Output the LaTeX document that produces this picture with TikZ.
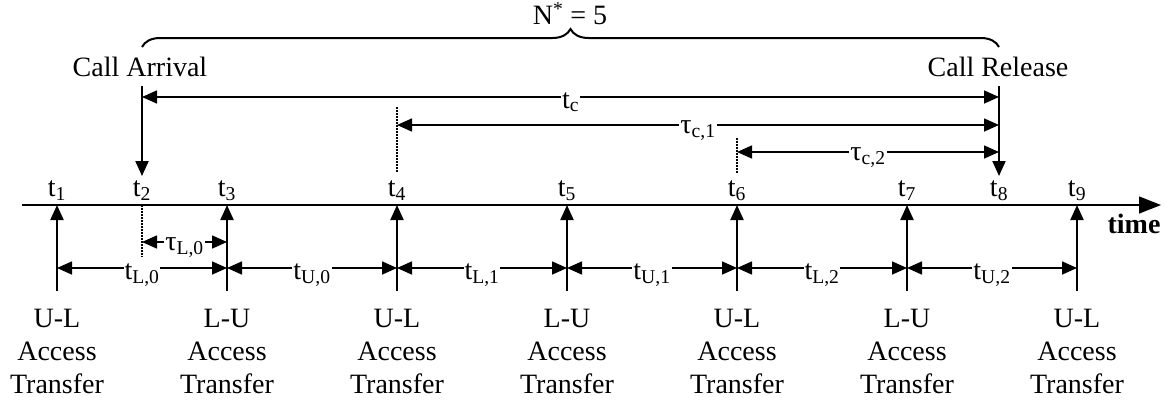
\documentclass[tikz,border=0pt]{standalone}
\usepackage{fontspec}
\setmainfont{Liberation Serif}
\usetikzlibrary{arrows.meta}
\usetikzlibrary{calc}
\usetikzlibrary{decorations.pathreplacing}

\tikzset{
  lbl/.style={fill=white, inner xsep=1pt, inner ysep=2pt, anchor=base, yshift=-11pt},
  dots/.style={line width=1.2pt, dash pattern=on 1.5pt off 1.5pt},
}

\begin{document}
\begin{tikzpicture}[x=1pt, y=-1pt, font=\fontsize{28}{33}\selectfont, >={Triangle[length=15pt,width=13pt]}]
\useasboundingbox (0,0) rectangle (1173,408);
% time axis
\coordinate (O) at (22,205);
\coordinate (T) at (1161,205);
\draw[line width=1.4pt, -{Triangle[length=22pt,width=17pt]}] (O)--(T);
\node[font=\fontsize{28}{33}\selectfont\bfseries] (time) at (1134,224) {time};
\foreach \i/\x in {1/57, 2/142, 3/227, 4/397, 5/567, 6/737, 7/907, 8/999, 9/1077} {
 \coordinate (e\i) at (\x,205);
 \node[above, inner sep=2, yshift=2] (t\i) at (e\i) {t\textsubscript{\i}};
}
% access transfers
\foreach \i/\txt in {1/U-L, 3/L-U, 4/U-L, 5/L-U, 6/U-L, 7/L-U, 9/U-L} {
 \coordinate (b\i) at ($(e\i)+(0,86)$);
 \coordinate (m\i) at ($(e\i)+(0,63)$);
 \draw[->, line width=2pt] (b\i) -- (e\i);
 \node[below=18pt, inner sep=0, align=center] (lab\i) at (b\i) {\txt\\Access\\Transfer};
}
\foreach \a/\b/\s in {1/3/{L,0}, 3/4/{U,0}, 4/5/{L,1}, 5/6/{U,1}, 6/7/{L,2}, 7/9/{U,2}}
 \draw[<->, line width=1.6pt] (m\a) -- node[lbl] {t\textsubscript{\s}} (m\b);
% tau L,0
\coordinate (p2) at (142,242);
\coordinate (p3) at (227,242);
\coordinate (q2) at (142,257);
\draw[dots] (e2) -- (q2);
\draw[<->, line width=1.6pt] (p2) -- node[lbl, yshift=3] {τ\textsubscript{L,0}} (p3);
% call arrival and release
\node (arr) at (140,67) {Call Arrival};
\node (rel) at (998,67) {Call Release};
\coordinate (a0) at (142,86);
\coordinate (a1) at (142,176);
\coordinate (r0) at (999,86);
\coordinate (r1) at (999,176);
\draw[->, line width=2pt] (a0) -- (a1);
\draw[->, line width=2pt] (r0) -- (r1);
\coordinate (c2) at (142,97);
\coordinate (c8) at (999,97);
\draw[<->, line width=1.6pt] (c2) -- node[lbl] {t\textsubscript{c}} (c8);
\coordinate (d4) at (397,125);
\coordinate (f4) at (397,107);
\coordinate (g4) at (397,173);
\coordinate (d8) at (999,125);
\draw[dots] (f4) -- (g4);
\draw[<->, line width=1.6pt] (d4) -- node[lbl, yshift=3] {τ\textsubscript{c,1}} (d8);
\coordinate (h6) at (737,152);
\coordinate (f6) at (737,138);
\coordinate (g6) at (737,173);
\coordinate (h8) at (999,152);
\draw[dots] (f6) -- (g6);
\draw[<->, line width=1.6pt] (h6) -- node[lbl, yshift=3] {τ\textsubscript{c,2}} (h8);
% N* brace
\coordinate (k2) at (142,47);
\coordinate (k8) at (999,47);
\draw[line width=2pt, decorate, decoration={brace, amplitude=18pt}] (k2) -- (k8);
\node (N) at (570,14) {N\textsuperscript{*} = 5};
\end{tikzpicture}
\end{document}
